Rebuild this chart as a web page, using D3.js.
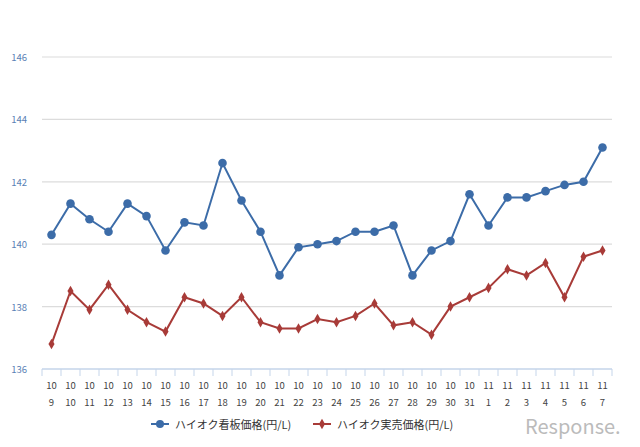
<!DOCTYPE html><html><head><meta charset="utf-8"><script src="https://cdn.jsdelivr.net/npm/d3@7"></script>
<style>body{margin:0;background:#fff}text{font-family:"Noto Sans CJK JP","DejaVu Sans",sans-serif}</style></head><body><svg width="640" height="447"></svg><script>
const months=["10","10","10","10","10","10","10","10","10","10","10","10","10","10","10","10","10","10","10","10","10","10","10","11","11","11","11","11","11","11"];
const days=["9","10","11","12","13","14","15","16","17","18","19","20","21","22","23","24","25","26","27","28","29","30","31","1","2","3","4","5","6","7"];
const board=[140.3,141.3,140.8,140.4,141.3,140.9,139.8,140.7,140.6,142.6,141.4,140.4,139.0,139.9,140.0,140.1,140.4,140.4,140.6,139.0,139.8,140.1,141.6,140.6,141.5,141.5,141.7,141.9,142.0,143.1];
const actual=[136.8,138.5,137.9,138.7,137.9,137.5,137.2,138.3,138.1,137.7,138.3,137.5,137.3,137.3,137.6,137.5,137.7,138.1,137.4,137.5,137.1,138.0,138.3,138.6,139.2,139.0,139.4,138.3,139.6,139.8];
const yTicks=[136,138,140,142,144,146];
const names=["ハイオク看板価格(円/L)","ハイオク実売価格(円/L)"];
const svg=d3.select("svg");
const idx=d3.range(days.length);
const x=d3.scaleBand().domain(idx).range([42,612]);
const y=d3.scaleLinear().domain([136,146]).range([369,57]);
const cx=i=>x(i)+x.bandwidth()/2;
svg.append("g").selectAll("line").data(yTicks.slice(1)).join("line").attr("x1",42).attr("x2",612).attr("y1",y).attr("y2",y).attr("stroke","#dcdcdc").attr("stroke-width",1.2);
svg.append("g").selectAll("text").data(yTicks).join("text").attr("x",27).attr("y",d=>y(d)+4).attr("text-anchor","end").attr("font-size",9.5).attr("fill","#5a7fb5").text(d=>d);
const ax=svg.append("g");
ax.append("line").attr("x1",42).attr("x2",612).attr("y1",369).attr("y2",369).attr("stroke","#c5d5ea").attr("stroke-width",1.5);
ax.selectAll("line.t").data(d3.range(days.length+1)).join("line").attr("class","t").attr("x1",i=>42+i*x.step()).attr("x2",i=>42+i*x.step()).attr("y1",369).attr("y2",376).attr("stroke","#c5d5ea");
const lab=ax.selectAll("text").data(idx).join("text").attr("text-anchor","middle").attr("font-size",9.5).attr("fill","#444");
lab.append("tspan").attr("x",cx).attr("y",389).text(i=>months[i]);
lab.append("tspan").attr("x",cx).attr("y",406).text(i=>days[i]);
const line=d3.line().x((d,i)=>cx(i)).y(d=>y(d));
svg.append("path").datum(board).attr("d",line).attr("fill","none").attr("stroke","#3c6ca8").attr("stroke-width",2);
svg.append("g").selectAll("circle").data(board).join("circle").attr("cx",(d,i)=>cx(i)).attr("cy",y).attr("r",4.3).attr("fill","#3c6ca8");
svg.append("path").datum(actual).attr("d",line).attr("fill","none").attr("stroke","#a83b38").attr("stroke-width",2);
const dia=d3.symbol().type(d3.symbolDiamond).size(32);
svg.append("g").selectAll("path").data(actual).join("path").attr("d",dia).attr("transform",(d,i)=>`translate(${cx(i)},${y(d)})`).attr("fill","#a83b38");
const lg=svg.append("g");
[[160,"#3c6ca8",0],[322,"#a83b38",1]].forEach(([lx,c,k])=>{
 lg.append("line").attr("x1",lx-9).attr("x2",lx+9).attr("y1",424).attr("y2",424).attr("stroke",c).attr("stroke-width",2);
 if(k==0)lg.append("circle").attr("cx",lx).attr("cy",424).attr("r",4).attr("fill",c);
 else lg.append("path").attr("d",dia).attr("transform",`translate(${lx},424)`).attr("fill",c);
 lg.append("text").attr("x",lx+15).attr("y",429).attr("font-size",11).attr("fill","#333").text(names[k]);
});
svg.append("text").attr("x",525).attr("y",434).attr("font-size",20).attr("fill","#bbb").attr("font-family","DejaVu Sans").text("Response.");
</script></body></html>
